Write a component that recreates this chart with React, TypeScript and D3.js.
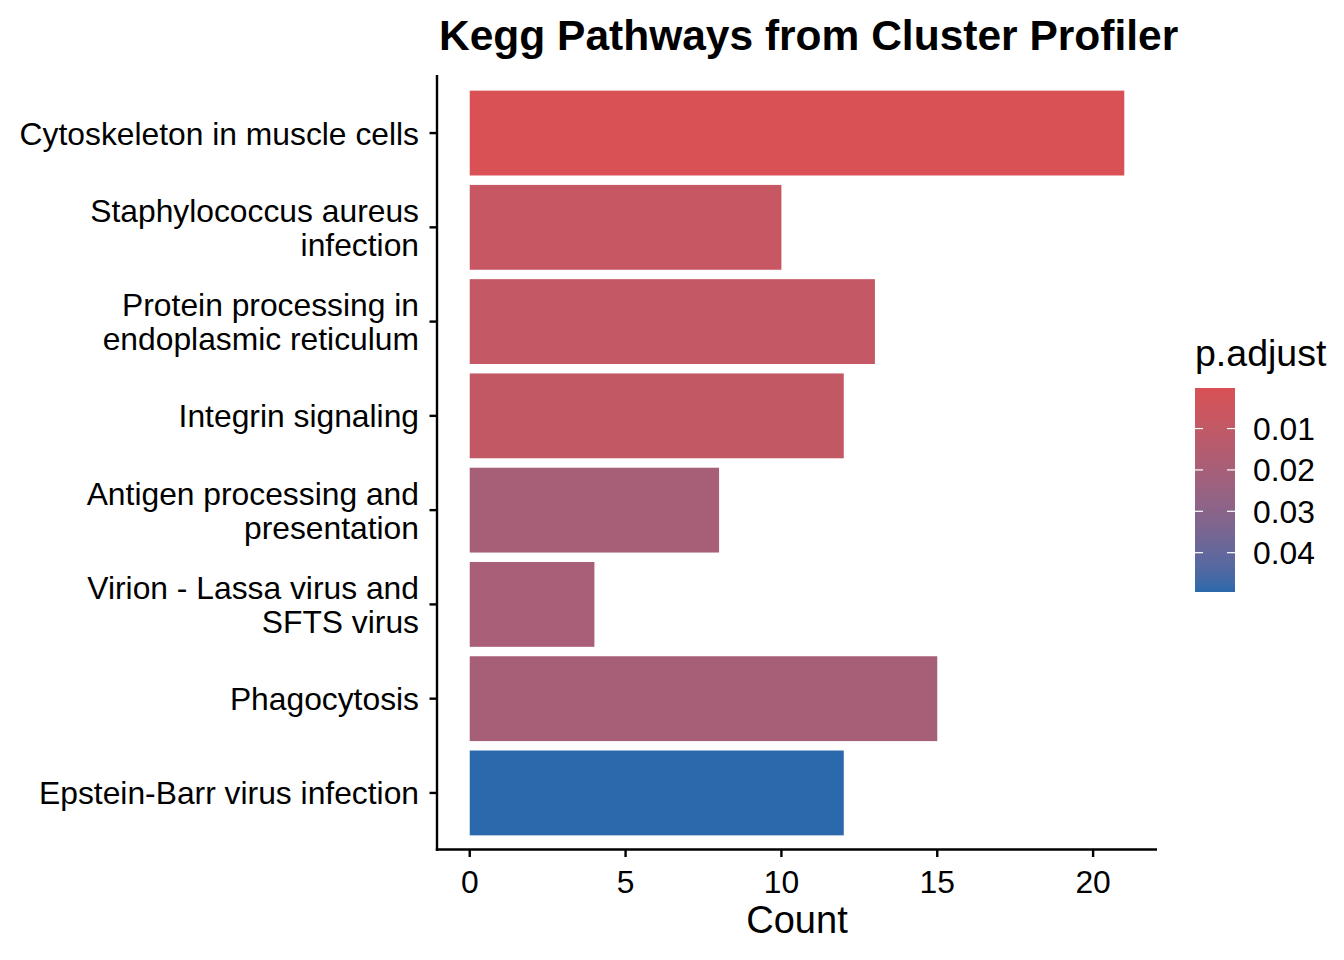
import React from "react";
import * as d3 from "d3";

const categories = [
  "Cytoskeleton in muscle cells",
  "Staphylococcus aureus\ninfection",
  "Protein processing in\nendoplasmic reticulum",
  "Integrin signaling",
  "Antigen processing and\npresentation",
  "Virion - Lassa virus and\nSFTS virus",
  "Phagocytosis",
  "Epstein-Barr virus infection",
];
const counts = [21, 10, 13, 12, 8, 4, 15, 12];
const pAdjust = [0.0002, 0.0075, 0.0088, 0.009, 0.02, 0.0195, 0.02, 0.0495];
const xTicks = [0, 5, 10, 15, 20];
const legendTicks = [0.01, 0.02, 0.03, 0.04];

const W = 1344;
const H = 960;
const panel = { left: 437, right: 1157, top: 76.5, bottom: 849.5 };
const font = "Liberation Sans, Arial, Helvetica, sans-serif";

export default function App() {
  const x = d3
    .scaleLinear()
    .domain([-1.05, 22.05])
    .range([panel.left, panel.right]);
  const y = d3
    .scaleBand<string>()
    .domain(categories)
    .range([panel.top, panel.bottom])
    .paddingInner(0.1)
    .paddingOuter(0.15);
  const pMin = d3.min(pAdjust) as number;
  const pMax = d3.max(pAdjust) as number;
  const color = d3
    .scaleLinear<string>()
    .domain([pMin, pMax])
    .range(["#D95055", "#2B69AC"])
    .interpolate(d3.interpolateLab);

  const leg = { x: 1195, w: 40, top: 388, bottom: 592 };
  const ly = d3.scaleLinear().domain([pMin, pMax]).range([leg.top, leg.bottom]);
  const stops = d3.range(0, 21).map((i) => pMin + ((pMax - pMin) * i) / 20);

  return (
    <svg
      width={W}
      height={H}
      style={{ position: "absolute", left: 0, top: 0, background: "#fff" }}
      fontFamily={font}
    >
      <defs>
        <linearGradient id="pgrad" x1="0" y1="0" x2="0" y2="1">
          {stops.map((s, i) => (
            <stop key={i} offset={`${(i / 20) * 100}%`} stopColor={color(s)} />
          ))}
        </linearGradient>
      </defs>
      <rect width={W} height={H} fill="#fff" />
      <text x={439} y={50} fontSize={42.5} fontWeight="bold" fill="#000">
        Kegg Pathways from Cluster Profiler
      </text>

      {categories.map((c, i) => (
        <rect
          key={c}
          x={x(0)}
          y={y(c)!}
          width={x(counts[i]) - x(0)}
          height={y.bandwidth()}
          fill={color(pAdjust[i])}
        />
      ))}

      {/* y axis */}
      <line x1={panel.left} x2={panel.left} y1={75} y2={panel.bottom + 1.2} stroke="#000" strokeWidth={2.4} />
      {categories.map((c) => {
        const cy = y(c)! + y.bandwidth() / 2;
        const lines = c.split("\n");
        const lh = 34;
        return (
          <g key={c}>
            <line x1={panel.left - 7.5} x2={panel.left} y1={cy} y2={cy} stroke="#000" strokeWidth={2.4} />
            {lines.map((l, j) => (
              <text
                key={j}
                x={419}
                y={cy + (j - (lines.length - 1) / 2) * lh}
                dy="0.36em"
                textAnchor="end"
                fontSize={31.8}
                fill="#000"
              >
                {l}
              </text>
            ))}
          </g>
        );
      })}

      {/* x axis */}
      <line x1={panel.left - 1.2} x2={panel.right} y1={panel.bottom} y2={panel.bottom} stroke="#000" strokeWidth={2.4} />
      {xTicks.map((t) => (
        <g key={t}>
          <line x1={x(t)} x2={x(t)} y1={panel.bottom} y2={panel.bottom + 7.5} stroke="#000" strokeWidth={2.4} />
          <text x={x(t)} y={893} textAnchor="middle" fontSize={31.8} fill="#000">
            {t}
          </text>
        </g>
      ))}
      <text x={(panel.left + panel.right) / 2} y={933} textAnchor="middle" fontSize={38} fill="#000">
        Count
      </text>

      {/* legend */}
      <text x={1195} y={366} fontSize={37.5} fill="#000">
        p.adjust
      </text>
      <rect x={leg.x} y={leg.top} width={leg.w} height={leg.bottom - leg.top} fill="url(#pgrad)" />
      {legendTicks.map((t) => (
        <g key={t}>
          <line x1={leg.x} x2={leg.x + 8} y1={ly(t)} y2={ly(t)} stroke="#fff" strokeWidth={1.2} />
          <line x1={leg.x + leg.w - 8} x2={leg.x + leg.w} y1={ly(t)} y2={ly(t)} stroke="#fff" strokeWidth={1.2} />
          <text x={1253} y={ly(t)} dy="0.36em" fontSize={31.8} fill="#000">
            {t.toFixed(2)}
          </text>
        </g>
      ))}
    </svg>
  );
}
